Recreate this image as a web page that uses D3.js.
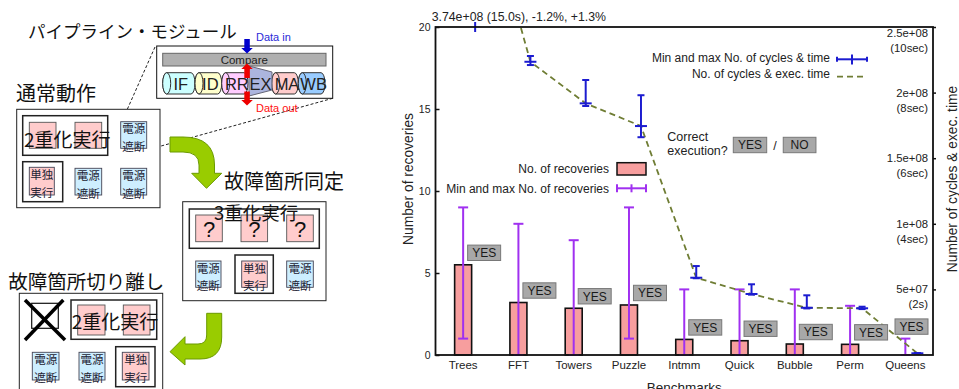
<!DOCTYPE html>
<html><head><meta charset="utf-8">
<script src="https://cdn.jsdelivr.net/npm/d3@7"></script>
<style>html,body{margin:0;padding:0;background:#fff;}svg{display:block;}</style>
</head><body>
<svg id="c" width="959" height="389"></svg>
<script>
// ---------------- chart data ----------------
const benchmarks = ["Trees","FFT","Towers","Puzzle","Intmm","Quick","Bubble","Perm","Queens"];
const recoveries = [5.5, 3.2, 2.85, 3.05, 0.95, 0.87, 0.67, 0.65, 0];
const recMin = [1, 0, 0, 1, 0, 0, 0, 0, 0];
const recMax = [9, 8, 7, 9, 4, 4, 4, 3, 1];
const cycles = [3.74e8, 2.235e8, 1.918e8, 1.745e8, 5.89e7, 4.65e7, 3.6e7, 3.56e7, 1.3e6];
const cycMin = [3.695e8, 2.21e8, 1.898e8, 1.66e8, 5.85e7, 4.6e7, 3.55e7, 3.5e7, 1.2e6];
const cycMax = [3.789e8, 2.279e8, 2.096e8, 1.98e8, 6.78e7, 5.39e7, 4.55e7, 3.68e7, 1.5e6];
const correct = ["YES","YES","YES","YES","YES","YES","YES","YES","YES"];
const leftTicks = [0, 5, 10, 15, 20];
const rightTicks = [5e7, 1e8, 1.5e8, 2e8, 2.5e8];
const rightTickLabels = ["5e+07","1e+08","1.5e+08","2e+08","2.5e+08"];
const rightTickTimes = ["(2s)","(4sec)","(6sec)","(8sec)","(10sec)"];
const offscaleNote = "3.74e+08 (15.0s), -1.2%, +1.3%";

const svg = d3.select("#c");
const JP = "'Noto Sans CJK JP', 'Noto Sans CJK SC', sans-serif";
const FONT = "'Liberation Sans', Arial, sans-serif";

// ---------------- left diagram ----------------
const dg = svg.append("g");
function box(x,y,w,h,fill,stroke,sw){
  return dg.append("rect").attr("x",x).attr("y",y).attr("width",w).attr("height",h)
    .attr("fill",fill||"none").attr("stroke",stroke||"#000").attr("stroke-width",sw||1);
}
function jtext(x,cy,s,size,anchor,fill){
  return dg.append("text").attr("x",x).attr("y",cy+size*0.37).attr("font-family",JP)
    .attr("font-size",size).attr("text-anchor",anchor||"start").attr("fill",fill||"#111").text(s);
}
function ltext(x,base,s,size,anchor,fill){
  return dg.append("text").attr("x",x).attr("y",base).attr("font-family",FONT)
    .attr("font-size",size).attr("text-anchor",anchor||"start").attr("fill",fill||"#111").text(s);
}
function unit(x,y,w,h,kind){
  const fill = kind==="off" ? "#cdeeff" : "#ffcccc";
  box(x,y,w,h,fill,"#445",0.9);
  const lines = kind==="off" ? ["電源","遮断"] : ["単独","実行"];
  jtext(x+w/2,y+7.3,lines[0],11.5,"middle","#223");
  jtext(x+w/2,y+25,lines[1],11.5,"middle","#223");
}
function pinkSq(x,y,w,h){ box(x,y,w,h,"#ffcccc","#555",0.9); }

// pipeline module
jtext(28,31.7,"パイプライン・モジュール",17.5);
dg.append("line").attr("x1",155).attr("y1",47).attr("x2",123.3).attr("y2",118.3)
  .attr("stroke","#222").attr("stroke-dasharray","3,2");
dg.append("line").attr("x1",332.7).attr("y1",98.3).attr("x2",146.7).attr("y2",150)
  .attr("stroke","#222").attr("stroke-dasharray","3,2");
box(156.7,46,176,52.3,"#fff","#111",1);
box(162.7,53.3,163.3,12.7,"#b0b0b0","#666",1);
ltext(244.3,64.2,"Compare",11.5,"middle","#222");
const stages = [
  {n:"IF",a:162.7,b:195,c:"#ccffff"},
  {n:"ID",a:195,b:221.7,c:"#ffffcc"},
  {n:"RR",a:221.7,b:248,c:"#ffccff"},
  {n:"MA",a:271.7,b:298.3,c:"#ffcccc"},
  {n:"WB",a:298.3,b:325,c:"#99ccff"}
];
const ct=72.7, cb=94, rx=4, ry=(cb-ct)/2;
stages.forEach(s=>{
  const a=s.a+rx, b=s.b-rx;
  dg.append("path").attr("d",`M${a},${ct} L${b},${ct} A${rx},${ry} 0 0 1 ${b},${cb} L${a},${cb} A${rx},${ry} 0 0 1 ${a},${ct} Z`)
    .attr("fill",s.c).attr("stroke","#333").attr("stroke-width",1);
  dg.append("ellipse").attr("cx",a).attr("cy",(ct+cb)/2).attr("rx",rx).attr("ry",ry)
    .attr("fill",s.c).attr("stroke","#333").attr("stroke-width",1);
});
dg.append("path").attr("d","M249,66 L272,72 L272,90 L249,96 Z").attr("fill","#9ea8d8").attr("fill-opacity",0.85)
  .attr("stroke","#667").attr("stroke-width",1);
stages.forEach(s=>{ ltext((s.a+s.b)/2+2,89.5,s.n,16.5,"middle","#222"); });
ltext(260.5,89.5,"EX",16.5,"middle","#222");
// arrows
dg.append("path").attr("d","M244.3,39 L249.8,39 L249.8,48 L252.8,48 L247,53.5 L241.3,48 L244.3,48 Z").attr("fill","#0000cc");
dg.append("path").attr("d","M247,63.5 L252.8,69 L249.8,69 L249.8,78 L244.3,78 L244.3,69 L241.3,69 Z").attr("fill","#ee0000");
dg.append("path").attr("d","M244.3,91.5 L249.8,91.5 L249.8,100 L252.8,100 L247,105.5 L241.3,100 L244.3,100 Z").attr("fill","#ee0000");
ltext(256,41,"Data in",11,"start","#2a2ad8");
ltext(256,111.5,"Data out",11,"start","#ff1010");

// normal operation
jtext(16,93.3,"通常動作",20);
box(16.7,109.3,143.3,98.4,"#fff","#222",1);
box(22.7,115.7,85,39.6,"none","#222",1.5);
pinkSq(29.3,122.3,26.7,26); pinkSq(75,122.3,26.7,26);
jtext(24,140,"2重化実行",19);
unit(120.7,121.7,26,26.6,"off");
box(22.7,161.7,40,40,"none","#222",1.5);
unit(29.3,167.3,25,27.7,"solo");
unit(75,168.3,26.7,26.7,"off");
unit(120.7,168.3,26,26.7,"off");

// green arrow 1
dg.append("path").attr("d","M170,137 L183,137 Q214.5,137 214.5,165 L214.5,173.3 L221.7,173.3 L206.5,188.3 L191.7,173.3 L199,173.3 L199,165 Q199,152 183,152 L170,152 Z")
  .attr("fill","#99cc00").attr("stroke","#6b9a00").attr("stroke-width",1);
jtext(224,181.7,"故障箇所同定",20);

// fault location
box(182.7,201.7,143.3,99,"#fff","#222",1);
box(189.3,209,130,39.3,"none","#222",1.5);
[195.7,241,286.7].forEach(xx=>{
  pinkSq(xx,215,26.6,26.7);
  ltext(xx+13.3,237,"?",22,"middle","#111");
});
jtext(214,213.3,"3重化実行",18.5);
unit(195.7,261,25.3,26.3,"off");
box(235,255,38.3,38.3,"none","#222",1.5);
unit(241.7,261,25.6,26.3,"solo");
unit(286.7,261,26.6,26.3,"off");

// green arrow 2
dg.append("path").attr("d","M206.7,313.3 L221.7,313.3 L221.7,337 Q221.7,359 200,359 L185,359 L185,365 L170,351.7 L185,336.7 L185,344 L198,344 Q206.7,344 206.7,335 Z")
  .attr("fill","#99cc00").attr("stroke","#6b9a00").attr("stroke-width",1);

// isolation
jtext(8.3,281.7,"故障箇所切り離し",19.5);
box(19.3,293.3,143.4,100,"#fff","#222",1);
box(31.7,303.3,26.6,25,"none","#111",1.2);
dg.append("line").attr("x1",25).attr("y1",300).attr("x2",65).attr("y2",340).attr("stroke","#000").attr("stroke-width",3.5);
dg.append("line").attr("x1",63.3).attr("y1",300).attr("x2",25).attr("y2",340).attr("stroke","#000").attr("stroke-width",3.5);
box(71,300,85.7,39.3,"none","#222",1.5);
pinkSq(77.7,305,27.3,30); pinkSq(123.3,305,26.7,30);
jtext(71.7,321.7,"2重化実行",19);
unit(32.3,352.3,26.7,27.7,"off");
unit(79,352.3,26,27.7,"off");
box(115.7,346.7,39.3,40,"none","#222",1.5);
unit(122.3,352.3,26.7,27.7,"solo");

// ---------------- chart ----------------
const X0=435.5, X1=933, YT=27, YB=355;
const x = d3.scaleBand().domain(benchmarks).range([X0,X1]).padding(0);
const cx = d => x(d) + x.bandwidth()/2;
const yL = d3.scaleLinear().domain([0,20]).range([YB,YT]);
const yR = d3.scaleLinear().domain([0,2.5e8]).range([YB,YT]);
const ch = svg.append("g").attr("font-family",FONT);
svg.append("defs").append("clipPath").attr("id","plot").append("rect")
  .attr("x",X0).attr("y",YT).attr("width",X1-X0).attr("height",YB-YT);

const BARC = "#f79e9e", PURP = "#a030f0", BLUE = "#1c1cd0", OLIVE = "#6f7d34";

// bars
ch.append("g").selectAll("rect").data(benchmarks).join("rect")
  .attr("x",d=>cx(d)-8.5).attr("y",(d,i)=>yL(recoveries[i]))
  .attr("width",17).attr("height",(d,i)=>YB-yL(recoveries[i]))
  .attr("fill",BARC).attr("stroke","#111").attr("stroke-width",1.6);

// recoveries error bars
const pe = ch.append("g").attr("stroke",PURP).attr("stroke-width",2);
benchmarks.forEach((b,i)=>{
  const xc=cx(b), y1=yL(recMax[i]), y2=yL(recMin[i]);
  pe.append("line").attr("x1",xc).attr("x2",xc).attr("y1",y1).attr("y2",y2);
  pe.append("line").attr("x1",xc-5).attr("x2",xc+5).attr("y1",y1).attr("y2",y1);
  pe.append("line").attr("x1",xc-5).attr("x2",xc+5).attr("y1",y2).attr("y2",y2);
});

// cycles dashed line
const off = 12;
ch.append("path").datum(benchmarks).attr("clip-path","url(#plot)")
  .attr("d", d3.line().x(d=>cx(d)+off).y((d,i)=>yR(cycles[i])))
  .attr("fill","none").attr("stroke",OLIVE).attr("stroke-width",1.8).attr("stroke-dasharray","6,4");

// cycles error bars
const be = ch.append("g").attr("stroke",BLUE).attr("stroke-width",2);
benchmarks.forEach((b,i)=>{
  const xc=cx(b)+off;
  if (cycles[i] > yR.domain()[1]) {
    be.append("line").attr("x1",xc).attr("x2",xc).attr("y1",YT-5).attr("y2",YT+5);
    return;
  }
  const y1=yR(cycMax[i]), y2=yR(cycMin[i]), ym=yR(cycles[i]);
  be.append("line").attr("x1",xc).attr("x2",xc).attr("y1",y1).attr("y2",y2);
  be.append("line").attr("x1",xc-3.5).attr("x2",xc+3.5).attr("y1",y1).attr("y2",y1);
  be.append("line").attr("x1",xc-3.5).attr("x2",xc+3.5).attr("y1",y2).attr("y2",y2);
  be.append("line").attr("x1",xc-6).attr("x2",xc+6).attr("y1",ym).attr("y2",ym);
});

// correct-execution labels
function tag(g,cxp,cyp,w,s){
  g.append("rect").attr("x",cxp-w/2).attr("y",cyp-7.7).attr("width",w).attr("height",15.4)
    .attr("fill","#a8a8a8").attr("stroke","#787878").attr("stroke-width",1);
  g.append("text").attr("x",cxp).attr("y",cyp+4.4).attr("text-anchor","middle")
    .attr("font-size",12).attr("fill","#1a1a1a").text(s);
}
const tg = ch.append("g");
benchmarks.forEach((b,i)=>{
  const w=33;
  const lx = Math.min(cx(b)+21, X1-5-w/2);
  const ly = recoveries[i] > 0 ? yL(recoveries[i]) - 12 : yL(recMax[i]) - 12;
  tag(tg,lx,ly,w,correct[i]);
});

// axes
const la = ch.append("g").attr("transform",`translate(${X0},0)`)
  .call(d3.axisLeft(yL).tickValues(leftTicks).tickSize(-4).tickPadding(5));
la.attr("font-family",FONT).attr("font-size",10.5);
la.select(".domain").remove();
la.selectAll("line").attr("stroke","#111").attr("stroke-width",1.5);
la.selectAll("text").attr("fill","#222");

const ba = ch.append("g").attr("transform",`translate(0,${YB})`)
  .call(d3.axisBottom(x).tickSize(0).tickPadding(6));
ba.attr("font-family",FONT).attr("font-size",11.5);
ba.select(".domain").remove();
ba.selectAll("text").attr("fill","#222");

const ra = ch.append("g").attr("transform",`translate(${X1},0)`)
  .call(d3.axisRight(yR).tickValues(rightTicks).tickSize(3).tickFormat(""));
ra.select(".domain").remove();
ra.selectAll("line").attr("stroke","#111").attr("stroke-width",1.5);
rightTicks.forEach((v,i)=>{
  const y0 = Math.max(yR(v), YT+6);
  ch.append("text").attr("x",928).attr("y",y0+4).attr("text-anchor","end")
    .attr("font-size",11.3).attr("fill","#222").text(rightTickLabels[i]);
  ch.append("text").attr("x",928).attr("y",y0+19).attr("text-anchor","end")
    .attr("font-size",11.3).attr("fill","#222").text(rightTickTimes[i]);
});

// border
ch.append("rect").attr("x",X0).attr("y",YT).attr("width",X1-X0).attr("height",YB-YT)
  .attr("fill","none").attr("stroke","#111").attr("stroke-width",1.8);

// titles
ch.append("text").attr("transform","translate(413,179) rotate(-90)").attr("text-anchor","middle")
  .attr("font-size",13.8).attr("fill","#222").text("Number of recoveries");
ch.append("text").attr("transform","translate(956.5,179) rotate(-90)").attr("text-anchor","middle")
  .attr("font-size",13.8).attr("fill","#222").text("Number of cycles & exec. time");
ch.append("text").attr("x",(X0+X1)/2).attr("y",392).attr("text-anchor","middle")
  .attr("font-size",13.5).attr("fill","#222").text("Benchmarks");
ch.append("text").attr("x",431.7).attr("y",20.5).attr("font-size",12.3).attr("fill","#222").text(offscaleNote);

// legends
const lg = ch.append("g").attr("font-size",12).attr("fill","#222");
lg.append("text").attr("x",609).attr("y",172.6).attr("text-anchor","end").text("No. of recoveries");
lg.append("rect").attr("x",617).attr("y",162.7).attr("width",29).attr("height",12.3)
  .attr("fill",BARC).attr("stroke","#111").attr("stroke-width",1.5);
lg.append("text").attr("x",609).attr("y",192.6).attr("text-anchor","end").text("Min and max No. of recoveries");
const pk = lg.append("g").attr("stroke",PURP).attr("stroke-width",2);
pk.append("line").attr("x1",617).attr("x2",646).attr("y1",188.3).attr("y2",188.3);
[617,631.5,646].forEach(xx=>pk.append("line").attr("x1",xx).attr("x2",xx).attr("y1",184.3).attr("y2",192.3));

lg.append("text").attr("x",830).attr("y",61.6).attr("text-anchor","end").text("Min and max No. of cycles & time");
const bk = lg.append("g").attr("stroke",BLUE).attr("stroke-width",2);
bk.append("line").attr("x1",837).attr("x2",867).attr("y1",59.3).attr("y2",59.3);
[837,867].forEach(xx=>bk.append("line").attr("x1",xx).attr("x2",xx).attr("y1",56.8).attr("y2",61.8));
bk.append("line").attr("x1",852).attr("x2",852).attr("y1",54.5).attr("y2",64.5);
lg.append("text").attr("x",830).attr("y",78.3).attr("text-anchor","end").text("No. of cycles & exec. time");
lg.append("line").attr("x1",837).attr("x2",867).attr("y1",76.7).attr("y2",76.7)
  .attr("stroke",OLIVE).attr("stroke-width",1.8).attr("stroke-dasharray","6,4");

lg.append("text").attr("x",667.3).attr("y",141).attr("font-size",12.5).text("Correct");
lg.append("text").attr("x",667.3).attr("y",155).attr("font-size",12.5).text("execution?");
tag(lg,750,145,33.4,"YES");
lg.append("text").attr("x",775).attr("y",149.5).attr("text-anchor","middle").attr("font-size",12.5).text("/");
tag(lg,799.6,145,32.7,"NO");
</script>
</body></html>
